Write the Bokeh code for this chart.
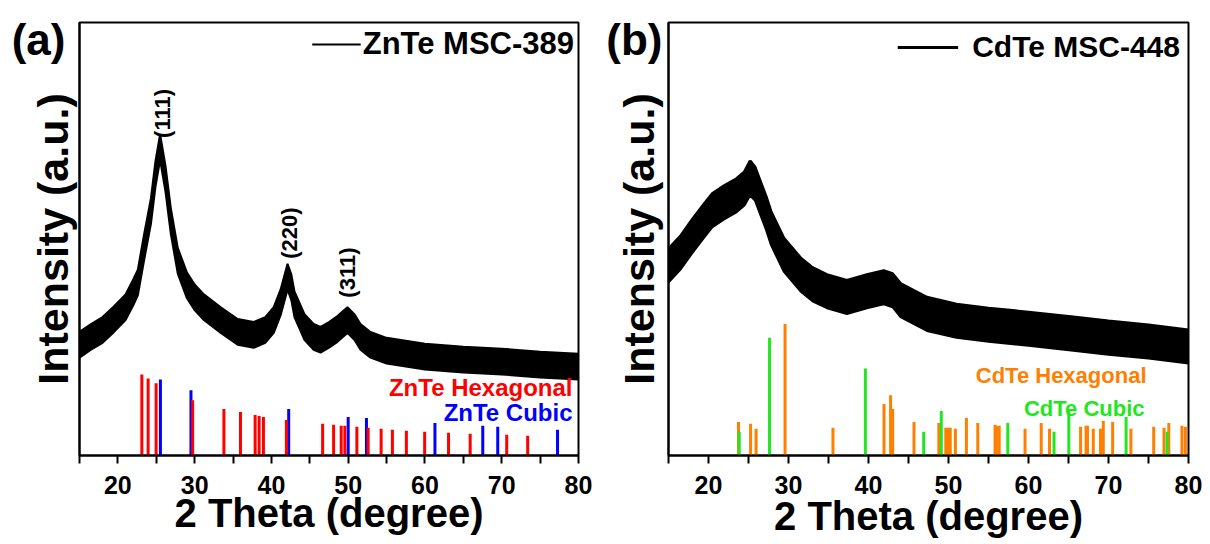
import math
from bokeh.plotting import figure
from bokeh.layouts import row
from bokeh.models import Range1d, FixedTicker, Label, Legend, LegendItem, ColumnDataSource
from bokeh.embed import file_html
from bokeh.resources import INLINE

# ---------------- data ----------------
x_ticks = [20, 30, 40, 50, 60, 70, 80]
x_minor = [15, 25, 35, 45, 55, 65, 75]

# ZnTe MSC-389 pattern (upper / lower envelope of the noisy trace)
theta_a = [15, 16.5, 18, 19.5, 21, 22, 22.6, 23.4, 24.3, 24.9, 25.5, 26.2, 26.9, 27.8, 29, 30, 31.2, 33.4,
           35.6, 37.7, 39.2, 40.3, 41.2, 42.1, 42.6, 43, 44.3, 45.5, 46.4, 47.5, 48.6, 49.9, 50.8, 51.6,
           52.9, 55, 60, 65, 70, 75, 80]
upper_a = [125, 133, 140, 151, 163, 178, 188, 223, 260, 298, 325, 293, 250, 210, 185, 173, 163, 150,
           138, 135, 140, 150, 168, 194, 183, 166, 143, 133, 130, 135, 141, 150, 143, 133,
           125, 119, 113, 110, 108, 105, 103]
lower_a = [99, 107, 114, 125, 137, 152, 162, 197, 234, 272, 299, 267, 224, 184, 159, 147, 137, 124,
           112, 109, 114, 124, 142, 168, 157, 140, 117, 107, 104, 109, 115, 124, 117, 107,
           99, 93, 87, 84, 82, 79, 77]

# ZnTe reference lines
znte_hex_theta = [23.12, 23.94, 24.98, 29.74, 33.81, 35.97, 37.88, 38.40, 38.96, 41.95, 46.67, 48.10,
                  49.09, 49.57, 51.13, 52.60, 54.29, 55.76, 57.58, 59.96, 63.07, 65.89, 70.65, 73.38]
znte_hex_int = [82, 78, 73, 56, 47, 44, 41, 40, 39, 36, 32, 31, 30, 30, 29, 28, 27, 26, 25, 24, 23, 22, 21, 20]
znte_cub_theta = [25.54, 29.52, 42.25, 50.00, 52.38, 61.30, 67.53, 69.48, 77.27]
znte_cub_int = [77, 66, 47, 39, 38, 33, 30, 29, 26]

# CdTe MSC-448 pattern
theta_b = [15, 16.5, 18, 19.5, 20.5, 22, 23.5, 24.5, 25.2, 25.8, 26.5, 27.2, 27.8, 29.4, 31.5, 33, 34.8,
           37.3, 39.8, 41.9, 43, 44, 47.3, 51, 55, 60, 65.6, 70, 75, 80]
upper_b = [209, 222, 239, 255, 265, 273, 280, 287, 298, 292, 277, 262, 247, 220, 200, 190, 183,
           177, 183, 187, 184, 174, 160, 153, 149, 145, 140, 136, 132, 127]
lower_b = [175, 188, 205, 221, 231, 239, 246, 253, 263, 258, 243, 228, 213, 186, 166, 156, 149,
           143, 149, 153, 150, 140, 126, 119, 115, 111, 106, 102, 98, 93]

cdte_hex_theta = [23.75, 25.26, 25.95, 29.57, 35.56, 41.94, 42.76, 43.02, 45.69, 48.79, 49.66, 49.96,
                  50.22, 50.86, 52.24, 53.66, 55.82, 55.99, 56.34, 59.57, 61.59, 62.63, 66.51, 67.20,
                  67.37, 68.10, 69.00, 69.35, 70.52, 72.80, 75.65, 76.94, 77.54, 79.18, 79.61]
cdte_hex_int = [34, 32, 27, 133, 28, 52, 61, 47, 34, 33, 28, 28,
                28, 27, 38, 33, 31, 30, 30, 27, 33, 27, 29, 30,
                30, 27, 27, 35, 34, 27, 29, 28, 33, 30, 29]
cdte_cub_theta = [23.84, 27.63, 39.61, 46.90, 49.10, 57.41, 63.19, 65.04, 72.20, 77.33]
cdte_cub_int = [24, 119, 88, 24, 45, 33, 24, 46, 39, 24]

FONT = "Liberation Sans"
RED = "#FF0000"
BLUE = "#0000FF"
ORANGE = "#FF8000"
GREEN = "#22E622"

PANEL_TAG_Y = 421   # height (in intensity units) where the (a)/(b) tag sits


def base_figure(width, left, right, tag, tag_standoff, title_standoff):
    p = figure(width=width, height=540, output_backend="svg", toolbar_location=None,
               x_range=Range1d(15, 80), y_range=Range1d(0, 438),
               min_border_left=left, min_border_right=right, min_border_top=22, min_border_bottom=80)
    p.grid.visible = False
    p.background_fill_color = "white"
    p.border_fill_color = "white"
    p.outline_line_color = "black"
    p.outline_line_width = 2
    p.outline_line_alpha = 1

    xa = p.xaxis[0]
    xa.ticker = FixedTicker(ticks=x_ticks, minor_ticks=x_minor)
    xa.axis_line_width = 2
    xa.major_tick_line_width = 2
    xa.minor_tick_line_width = 2
    xa.major_tick_in = 0
    xa.major_tick_out = 8
    xa.minor_tick_in = 0
    xa.minor_tick_out = 8
    xa.major_label_standoff = 12
    xa.major_label_text_font = FONT
    xa.major_label_text_font_size = "25px"
    xa.major_label_text_font_style = "bold"
    xa.major_label_text_color = "black"
    xa.axis_label = "2 Theta (degree)"
    xa.axis_label_text_font = FONT
    xa.axis_label_text_font_size = "40px"
    xa.axis_label_text_font_style = "bold"
    xa.axis_label_text_color = "black"
    xa.axis_label_standoff = title_standoff

    ya = p.yaxis[0]
    ya.ticker = FixedTicker(ticks=[PANEL_TAG_Y], minor_ticks=[])
    ya.major_label_overrides = {PANEL_TAG_Y: tag}
    ya.axis_line_width = 2
    ya.major_tick_line_color = None
    ya.minor_tick_line_color = None
    ya.major_tick_in = 0
    ya.major_tick_out = 0
    ya.minor_tick_in = 0
    ya.minor_tick_out = 0
    ya.major_label_standoff = tag_standoff
    ya.major_label_orientation = "horizontal"
    ya.major_label_text_font = FONT
    ya.major_label_text_font_size = "44px"
    ya.major_label_text_font_style = "bold"
    ya.major_label_text_color = "black"
    ya.axis_label = "Intensity (a.u.)"
    ya.axis_label_text_font = FONT
    ya.axis_label_text_font_size = "43px"
    ya.axis_label_text_font_style = "bold"
    ya.axis_label_text_color = "black"
    ya.axis_label_standoff = -(tag_standoff + 54)
    return p


def data_label(p, x, y, text, size, color, align="right", angle=0.0):
    p.add_layout(Label(x=x, y=y, text=text, angle=angle, text_font=FONT, text_font_size=size,
                       text_font_style="bold", text_color=color, text_align=align,
                       text_baseline="middle"))


def sticks(p, th, h, color):
    src = ColumnDataSource(dict(x=th, h=h))
    p.segment(x0="x", y0=0, x1="x", y1="h", source=src, line_color=color, line_width=3)


# ---------------- panel (a) ----------------
pa = base_figure(600, 79, 22, "(a)", 14, -6)
sticks(pa, znte_cub_theta, znte_cub_int, BLUE)
sticks(pa, znte_hex_theta, znte_hex_int, RED)
pa.varea(x=theta_a, y1=lower_a, y2=upper_a, fill_color="black")
ra = pa.line(theta_a, upper_a, line_color="black", line_width=2)
pa.line(theta_a, lower_a, line_color="black", line_width=2)

leg_a = Legend(items=[LegendItem(label="ZnTe MSC-389", renderers=[ra])], location="top_right",
               margin=4, padding=0, spacing=0, label_standoff=2, glyph_width=49, glyph_height=20,
               border_line_alpha=0, background_fill_alpha=0, label_text_font=FONT,
               label_text_font_size="31px", label_text_font_style="bold", label_text_color="black")
pa.add_layout(leg_a)

data_label(pa, 25.81, 346, "(111)", "22px", "black", align="center", angle=math.pi / 2)
data_label(pa, 42.35, 225, "(220)", "22px", "black", align="center", angle=math.pi / 2)
data_label(pa, 49.9, 185, "(311)", "22px", "black", align="center", angle=math.pi / 2)
data_label(pa, 79.22, 69, "ZnTe Hexagonal", "24px", RED)
data_label(pa, 79.22, 44, "ZnTe Cubic", "24px", BLUE)

# ---------------- panel (b) ----------------
pb = base_figure(602, 68, 14, "(b)", 6, -3)
sticks(pb, cdte_hex_theta, cdte_hex_int, ORANGE)
sticks(pb, cdte_cub_theta, cdte_cub_int, GREEN)
pb.varea(x=theta_b, y1=lower_b, y2=upper_b, fill_color="black")
rb = pb.line(theta_b, upper_b, line_color="black", line_width=3)
pb.line(theta_b, lower_b, line_color="black", line_width=2)

leg_b = Legend(items=[LegendItem(label="CdTe MSC-448", renderers=[rb])], location="top_right",
               margin=8, padding=0, spacing=0, label_standoff=14, glyph_width=61, glyph_height=20,
               border_line_alpha=0, background_fill_alpha=0, label_text_font=FONT,
               label_text_font_size="30px", label_text_font_style="bold", label_text_color="black")
pb.add_layout(leg_b)

data_label(pb, 74.75, 81, "CdTe Hexagonal", "22px", ORANGE)
data_label(pb, 74.5, 48, "CdTe Cubic", "22px", GREEN)

layout = row(pa, pb)
open("out.html", "w").write(file_html(layout, INLINE))
